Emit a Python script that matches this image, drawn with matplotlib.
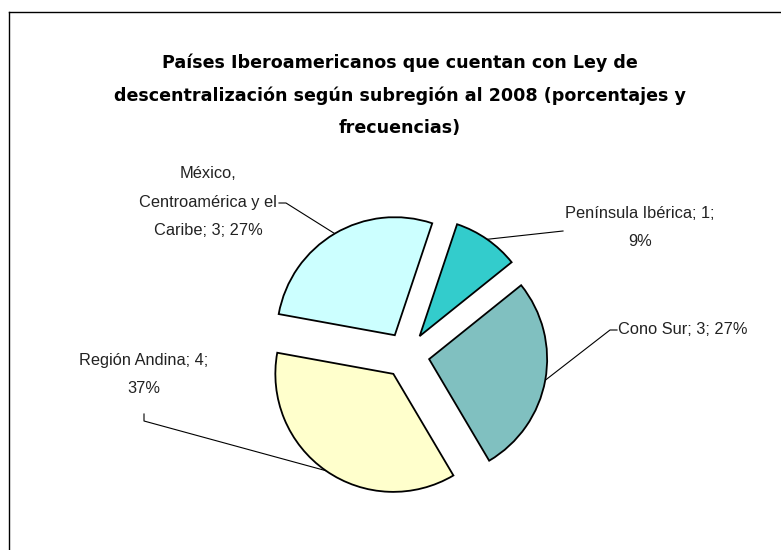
import numpy as np
import matplotlib.pyplot as plt
from matplotlib.lines import Line2D

# datos del gráfico
regiones = ['Península Ibérica', 'Cono Sur', 'Región Andina',
            'México,\nCentroamérica y el\nCaribe']
paises = [1, 3, 4, 3]
porcentajes = ['9%', '27%', '37%', '27%']
colores = ['#33CCCC', '#80C0C0', '#FFFFCC', '#CCFFFF']

etiquetas = [
    f'{regiones[0]}; {paises[0]};\n{porcentajes[0]}',
    f'{regiones[1]}; {paises[1]}; {porcentajes[1]}',
    f'{regiones[2]}; {paises[2]};\n{porcentajes[2]}',
    f'{regiones[3]}; {paises[3]}; {porcentajes[3]}',
]

TITULO = ('Países Iberoamericanos que cuentan con Ley de\n'
          'descentralización según subregión al 2008 (porcentajes y\n'
          'frecuencias)')

W, H = 781, 550


def py(y):
    # coordenada vertical de la imagen (hacia abajo) -> datos (hacia arriba)
    return H - y


fig = plt.figure(figsize=(W / 100, H / 100), dpi=100)
ax = fig.add_axes([0, 0, 1, 1])

wedges, _ = ax.pie(paises, colors=colores, startangle=71.5, counterclock=False,
                   center=(406.5, py(355)), radius=118, explode=[23] * 4,
                   wedgeprops=dict(edgecolor='black', linewidth=1.3))
ax.set_xlim(0, W)
ax.set_ylim(0, H)
ax.axis('off')

# posiciones de las etiquetas (texto, codo, extremo de la línea guía)
FUENTE = ['Liberation Sans', 'DejaVu Sans']
textos = [
    dict(xy=(640, 227.5), ha='center', codo=None, fin=(563, 231)),
    dict(xy=(618, 329), ha='left', codo=(610, 330), fin=(617, 330)),
    dict(xy=(144, 374.5), ha='center', codo=(144, 421), fin=(144, 414)),
    dict(xy=(208, 202), ha='center', codo=(286, 203), fin=(279, 203)),
]

for w, et, t in zip(wedges, etiquetas, textos):
    ax.text(t['xy'][0], py(t['xy'][1]), et, ha=t['ha'], va='center',
            family=FUENTE, fontsize=11.8, linespacing=2.1, color='#222222')
    mid = np.deg2rad((w.theta1 + w.theta2) / 2)
    ancla = (w.center[0] + w.r * np.cos(mid), w.center[1] + w.r * np.sin(mid))
    xs, ys = [ancla[0]], [ancla[1]]
    if t['codo'] is not None:
        xs.append(t['codo'][0])
        ys.append(py(t['codo'][1]))
    xs.append(t['fin'][0])
    ys.append(py(t['fin'][1]))
    ax.plot(xs, ys, color='black', linewidth=0.8, zorder=0)

ax.text(400, py(95), TITULO, ha='center', va='center', fontsize=12.6,
        fontweight='bold', family='DejaVu Sans', linespacing=2.0)

# marco del gráfico (solo borde izquierdo y superior visibles)
fig.add_artist(Line2D([9 / W, 9 / W], [0, 1 - 11.5 / H], transform=fig.transFigure,
                      color='black', linewidth=1.0))
fig.add_artist(Line2D([9 / W, 1], [1 - 11.5 / H, 1 - 11.5 / H], transform=fig.transFigure,
                      color='black', linewidth=1.0))

plt.savefig('out.png', dpi=100)
plt.close()
